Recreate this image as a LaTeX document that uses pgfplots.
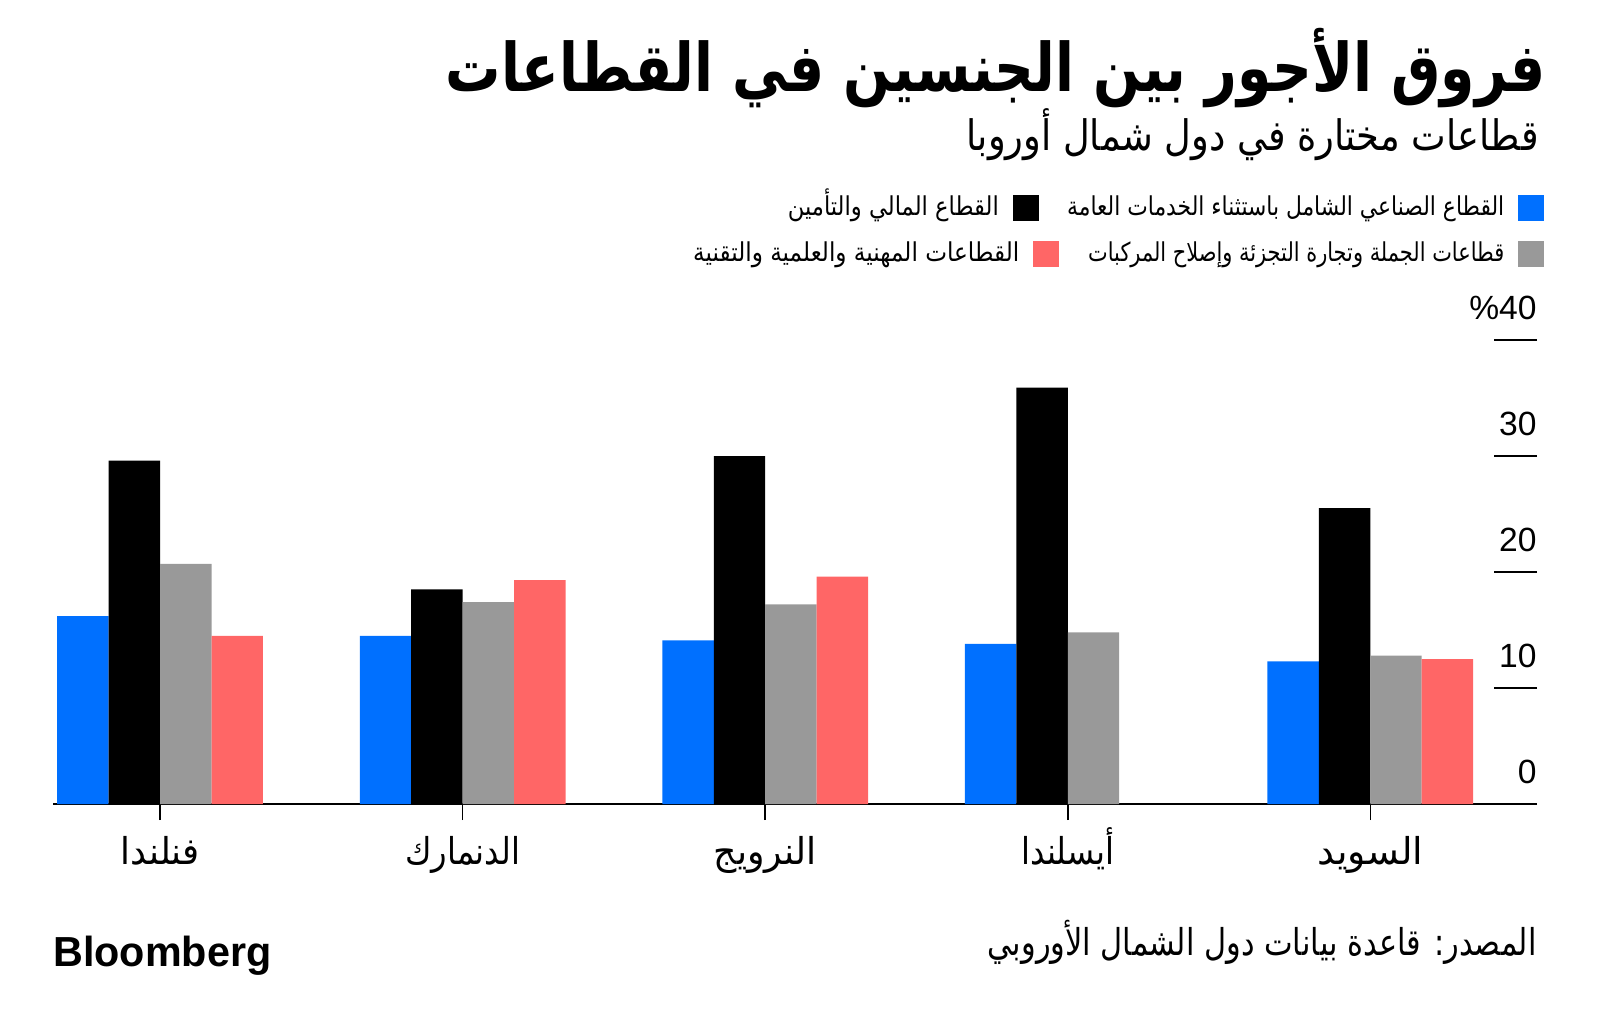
\documentclass[border=0pt]{standalone}
\usepackage{fontspec}
\usepackage{graphicx}
\usepackage{pgfplots}
\pgfplotsset{compat=1.18}
\setmainfont{Liberation Sans}
\newfontfamily\arabicfont[Script=Arabic]{DejaVu Sans}
\TeXXeTstate=1
\definecolor{mblue}{RGB}{0,112,255}
\definecolor{mred}{RGB}{255,102,102}
\definecolor{mgray}{RGB}{153,153,153}
\newcommand{\ar}[3][]{\resizebox{#2}{\height}{\arabicfont#1#3}}

\begin{document}
\begin{tikzpicture}
\useasboundingbox (0,0) rectangle (800pt,515pt);
\begin{axis}[
  at={(26.5pt,113pt)}, anchor=south west,
  scale only axis, width=742pt, height=232pt,
  xmin=-0.354, xmax=4.551, ymin=0, ymax=40,
  clip=false,
  ybar=0pt, bar width=0.17,
  axis x line*=bottom, axis y line*=right,
  y axis line style={draw=none},
  x axis line style={line width=1.2pt, -},
  xtick={0,1,2,3,4},
  xticklabels={{\ar{39.5pt}{\beginR فنلندا\endR}}, {\ar{57.5pt}{\beginR الدنمارك\endR}}, {\ar{51.5pt}{\beginR النرويج\endR}}, {\ar{46.5pt}{\beginR أيسلندا\endR}}, {\ar{53pt}{\beginR السويد\endR}}},
  xtick pos=left, ytick pos=right, yticklabel pos=right,
  xtick align=outside, ytick align=inside,
  xtick style={line width=0.75pt, black, /pgfplots/major tick length=8pt},
  ytick style={line width=1pt, black, /pgfplots/major tick length=21.5pt},
  ytick={0,10,20,30,40},
  yticklabels={0,10,20,30,\%40},
  xticklabel style={font=\fontsize{18.5}{20}\selectfont, anchor=base, yshift=-26pt, inner sep=0pt},
  yticklabel style={font=\fontsize{16.8}{18}\selectfont, anchor=base east, yshift=10.5pt, inner sep=0pt},
  legend columns=2, legend plot pos=right,
  legend style={at={(1.00472,1.319)}, anchor=north east, draw=none, fill=none,
    inner sep=0pt, outer sep=0pt, column sep=5pt, row sep=7.5pt,
    cells={anchor=east, inner sep=0pt, text height=10pt, text depth=3pt, font=\fontsize{13}{15}\selectfont}},
]
\addplot[forget plot, fill=mblue, draw=none, bar shift=-0.255] coordinates {(0,16.2) (1,14.5) (2,14.1) (3,13.8) (4,12.3)};
\addplot[forget plot, fill=black, draw=none, bar shift=-0.085] coordinates {(0,29.6) (1,18.5) (2,30.0) (3,35.9) (4,25.5)};
\addplot[forget plot, fill=mgray, draw=none, bar shift=0.085] coordinates {(0,20.7) (1,17.4) (2,17.2) (3,14.8) (4,12.8)};
\addplot[forget plot, fill=mred, draw=none, bar shift=0.255] coordinates {(0,14.5) (1,19.3) (2,19.6) (4,12.5)};

\addlegendimage{legend image code/.code={\fill[black] (0pt,-6.25pt) rectangle (12.5pt,6.25pt); \path[draw=none, fill=none] (0pt,0pt) rectangle (20pt,0pt);}}
\addlegendentry{\ar{105.5pt}{\beginR القطاع المالي والتأمين\endR}}
\addlegendimage{legend image code/.code={\fill[mblue] (0pt,-6.25pt) rectangle (12.5pt,6.25pt);}}
\addlegendentry{\ar{218.5pt}{\beginR القطاع الصناعي الشامل باستثناء الخدمات العامة\endR}}
\addlegendimage{legend image code/.code={\fill[mred, overlay] (10.2pt,-6.25pt) rectangle (22.7pt,6.25pt);}}
\addlegendentry{\ar{163pt}{\beginR القطاعات المهنية والعلمية والتقنية\endR}\hspace*{-10.2pt}}
\addlegendimage{legend image code/.code={\fill[mgray] (0pt,-6.25pt) rectangle (12.5pt,6.25pt);}}
\addlegendentry{\ar{208pt}{\beginR قطاعات الجملة وتجارة التجزئة وإصلاح المركبات\endR}}
\end{axis}

\node[anchor=base east, inner sep=0pt] at (773pt,469pt) {\fontsize{33.5}{38}\selectfont\ar[\bfseries]{550pt}{\beginR فروق الأجور بين الجنسين في القطاعات\endR}};
\node[anchor=base east, inner sep=0pt] at (769.5pt,439.5pt) {\fontsize{21}{24}\selectfont\ar{286pt}{\beginR قطاعات مختارة في دول شمال أوروبا\endR}};
\node[anchor=base east, inner sep=0pt] at (768.5pt,37.5pt) {\fontsize{18.5}{22}\selectfont\ar{274.5pt}{\beginR المصدر: قاعدة بيانات دول الشمال الأوروبي\endR}};
\node[anchor=base west, inner sep=0pt] at (26.5pt,32pt) {\resizebox{109pt}{\height}{\fontsize{21}{24}\selectfont\bfseries Bloomberg}};
\end{tikzpicture}
\end{document}
